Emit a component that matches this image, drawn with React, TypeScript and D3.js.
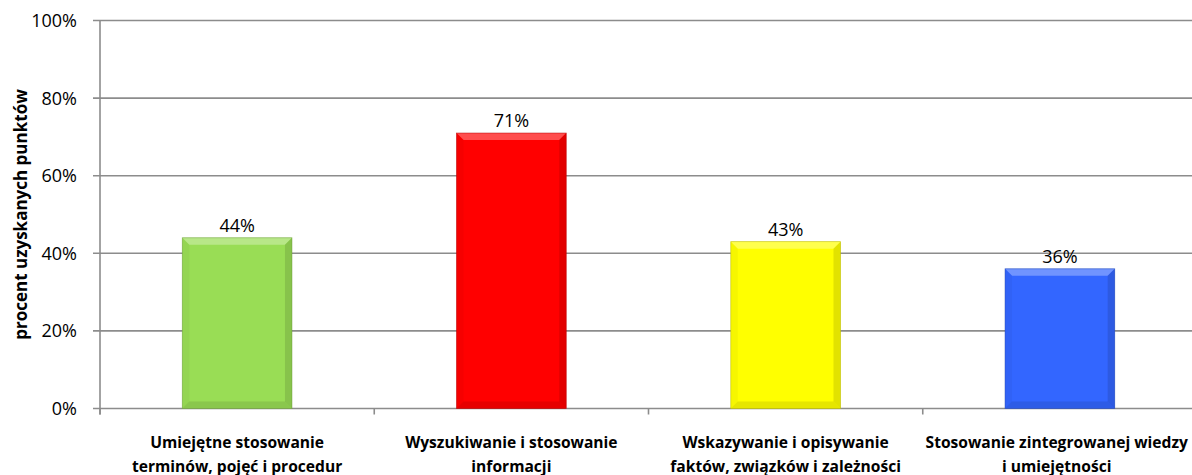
import React, { useLayoutEffect, useRef, useState } from "react";
import * as d3 from "d3";

const categories: string[][] = [
  ["Umiejętne stosowanie", "terminów, pojęć i procedur"],
  ["Wyszukiwanie i stosowanie", "informacji"],
  ["Wskazywanie i opisywanie", "faktów, związków i zależności"],
  ["Stosowanie zintegrowanej wiedzy", "i umiejętności"],
];
const values = [44, 71, 43, 36];
const barColors = ["#99dd55", "#ff0000", "#ffff00", "#3366ff"];
const yTicks = [0, 20, 40, 60, 80, 100];
const yTitle = "procent uzyskanych punktów";

const W = 1192;
const H = 475;
const left = 100;
const right = 1197;
const top = 20.5;
const bottom = 408.5;

export default function App() {
  const x = d3
    .scaleBand<number>()
    .domain(values.map((_, i) => i))
    .range([left, right])
    .paddingInner(0.6)
    .paddingOuter(0.3);
  const y = d3.scaleLinear().domain([0, 100]).range([bottom, top]);
  const step = (right - left) / values.length;
  const font = "'Open Sans', sans-serif";
  const bev = 7;

  const labelRefs = useRef<(SVGTextElement | null)[]>([]);
  const [shifts, setShifts] = useState<number[]>(categories.map(() => 0));
  useLayoutEffect(() => {
    const s = categories.map((_, i) => {
      const el = labelRefs.current[i];
      if (!el) return 0;
      const b = el.getBBox();
      const over = b.x + b.width - (W - 4);
      return over > 0 ? -over : 0;
    });
    setShifts(s);
  }, []);

  return (
    <svg width={W} height={H} style={{ position: "absolute", left: 0, top: 0 }}>
      <rect width={W} height={H} fill="#fff" />
      {yTicks.map((t) => (
        <g key={t}>
          <line x1={left - 7} x2={right} y1={y(t)} y2={y(t)} stroke="#8c8c8c" strokeWidth={1.6} />
          <text x={left - 23} y={y(t)} dy="0.36em" textAnchor="end" fontFamily={font} fontSize={18} fill="#000">
            {t}%
          </text>
        </g>
      ))}
      <line x1={left} x2={left} y1={top} y2={bottom + 6} stroke="#8c8c8c" strokeWidth={1.6} />
      {d3.range(values.length + 1).map((i) => (
        <line key={i} x1={left + i * step} x2={left + i * step} y1={bottom} y2={bottom + 6} stroke="#8c8c8c" strokeWidth={1.6} />
      ))}
      {values.map((v, i) => {
        const x0 = x(i)!;
        const w = x.bandwidth();
        const y0 = y(v);
        const y1 = y(0);
        const c = d3.color(barColors[i])!;
        const light = d3.interpolateRgb(barColors[i], "#ffffff")(0.3);
        const dark = c.darker(0.6).formatHex();
        const mid = c.darker(0.25).formatHex();
        return (
          <g key={i}>
            <rect x={x0} y={y0} width={w} height={y1 - y0} fill={barColors[i]} />
            <polygon points={`${x0},${y0} ${x0 + w},${y0} ${x0 + w - bev},${y0 + bev} ${x0 + bev},${y0 + bev}`} fill={light} />
            <polygon points={`${x0},${y0} ${x0 + bev},${y0 + bev} ${x0 + bev},${y1 - bev} ${x0},${y1}`} fill={mid} opacity={0.4} />
            <polygon points={`${x0 + w},${y0} ${x0 + w - bev},${y0 + bev} ${x0 + w - bev},${y1 - bev} ${x0 + w},${y1}`} fill={dark} opacity={0.6} />
            <polygon points={`${x0},${y1} ${x0 + bev},${y1 - bev} ${x0 + w - bev},${y1 - bev} ${x0 + w},${y1}`} fill={dark} opacity={0.5} />
            <rect x={x0} y={y0} width={w} height={y1 - y0} fill="none" stroke={c.darker(1).formatHex()} strokeWidth={0.8} strokeOpacity={0.6} />
            <text x={x0 + w / 2} y={y0 - 6} textAnchor="middle" fontFamily={font} fontSize={18} fill="#000">
              {v}%
            </text>
          </g>
        );
      })}
      {categories.map((lines, i) => (
        <text
          key={i}
          ref={(el) => {
            labelRefs.current[i] = el;
          }}
          textAnchor="middle"
          fontFamily={font}
          fontSize={15.6}
          fontWeight="bold"
          fill="#000"
          transform={`translate(${shifts[i]},0)`}
        >
          {lines.map((l, j) => (
            <tspan key={j} x={left + step * (i + 0.5)} y={448 + j * 23.5}>
              {l}
            </tspan>
          ))}
        </text>
      ))}
      <text
        transform={`translate(21,${(top + bottom) / 2}) rotate(-90)`}
        textAnchor="middle"
        dy="0.35em"
        fontFamily={font}
        fontSize={17}
        fontWeight="bold"
        fill="#000"
      >
        {yTitle}
      </text>
    </svg>
  );
}
